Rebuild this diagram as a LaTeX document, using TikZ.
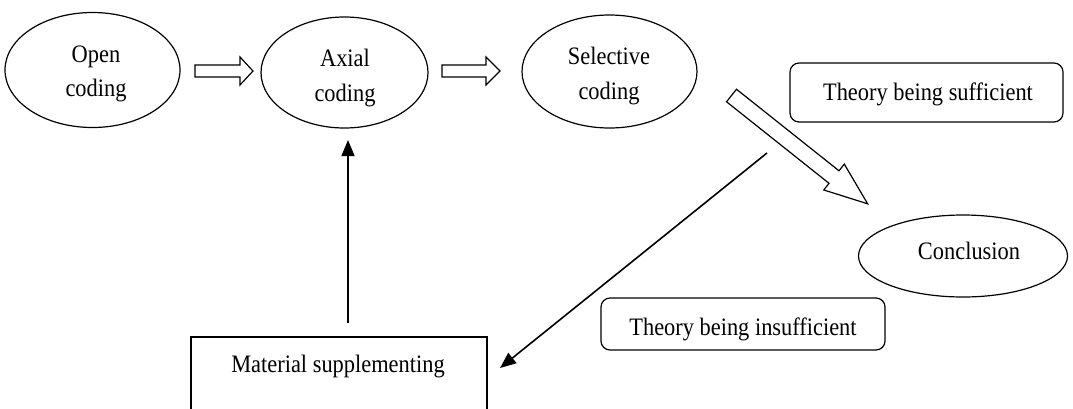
\documentclass[tikz,border=0pt]{standalone}
\usepackage{fontspec}
\setmainfont{Liberation Serif}
\usetikzlibrary{shapes.geometric,arrows.meta}
\newcommand{\tallt}[1]{\scalebox{1}[1.12]{\begin{tabular}{@{}c@{}}#1\end{tabular}}}
\begin{document}
\begin{tikzpicture}[x=1pt,y=-1pt,
  txt/.style={font=\fontsize{22.4}{31}\selectfont, inner sep=0pt},
  oval/.style={draw, line width=1.2pt, ellipse, inner sep=0pt},
  rbox/.style={draw, line width=1.2pt, rounded corners=9pt, inner sep=0pt},
  sqbox/.style={draw, line width=2pt, inner sep=0pt},
  blockarrow/.style={draw, line width=1.2pt, fill=white, line join=miter},
  link/.style={draw, line width=1.6pt, -{Triangle[length=16pt,width=13pt]}}]
\useasboundingbox (0,0) rectangle (1073,408);
% ellipses
\node[oval, minimum width=175pt, minimum height=115pt] (open) at (92.5,70) {};
\node[txt] (opent) at (96,72.5) {\tallt{Open\\coding}};
\node[oval, minimum width=167pt, minimum height=111pt] (axial) at (344.5,72.5) {};
\node[txt] (axialt) at (345,77.3) {\tallt{Axial\\coding}};
\node[oval, minimum width=175pt, minimum height=113pt] (sel) at (609.5,71.5) {};
\node[txt] (selt) at (609,75.2) {\tallt{Selective\\coding}};
\node[oval, minimum width=209pt, minimum height=82pt] (concl) at (963,256) {};
\node[txt] (conclt) at (969,253) {\tallt{Conclusion}};
% rounded boxes
\node[rbox, minimum width=273pt, minimum height=59pt] (suff) at (926.5,92.5) {};
\node[txt] (sufft) at (928,93.5) {\tallt{Theory being sufficient}};
\node[rbox, minimum width=284pt, minimum height=52pt] (insuff) at (743,324) {};
\node[txt] (insufft) at (743,328.5) {\tallt{Theory being insufficient}};
% material box (bottom edge runs off the picture)
\node[sqbox, minimum width=296pt, minimum height=76pt] (mat) at (339,375) {};
\node[txt] (matt) at (338,366) {\tallt{Material supplementing}};
% block arrows
\draw[blockarrow] (195,65) -- (240,65) -- (240,57) -- (253,71) -- (240,85) -- (240,77) -- (195,77) -- cycle;
\draw[blockarrow] (442,65) -- (486,65) -- (486,57) -- (500,71) -- (486,85) -- (486,77) -- (442,77) -- cycle;
\begin{scope}[shift={(731.5,95.5)}, rotate=-38.5]
\draw[blockarrow] (0,-8) -- (131,-8) -- (131,-16.5) -- (174,0) -- (131,16.5) -- (131,8) -- (0,8) -- cycle;
\end{scope}
% line arrows
\coordinate (vstart) at (348,323);
\coordinate (vend) at (348,140);
\draw[link] (vstart) -- (vend);
\coordinate (dstart) at (767,153);
\coordinate (dend) at (500,368);
\draw[link] (dstart) -- (dend);
\end{tikzpicture}
\end{document}
